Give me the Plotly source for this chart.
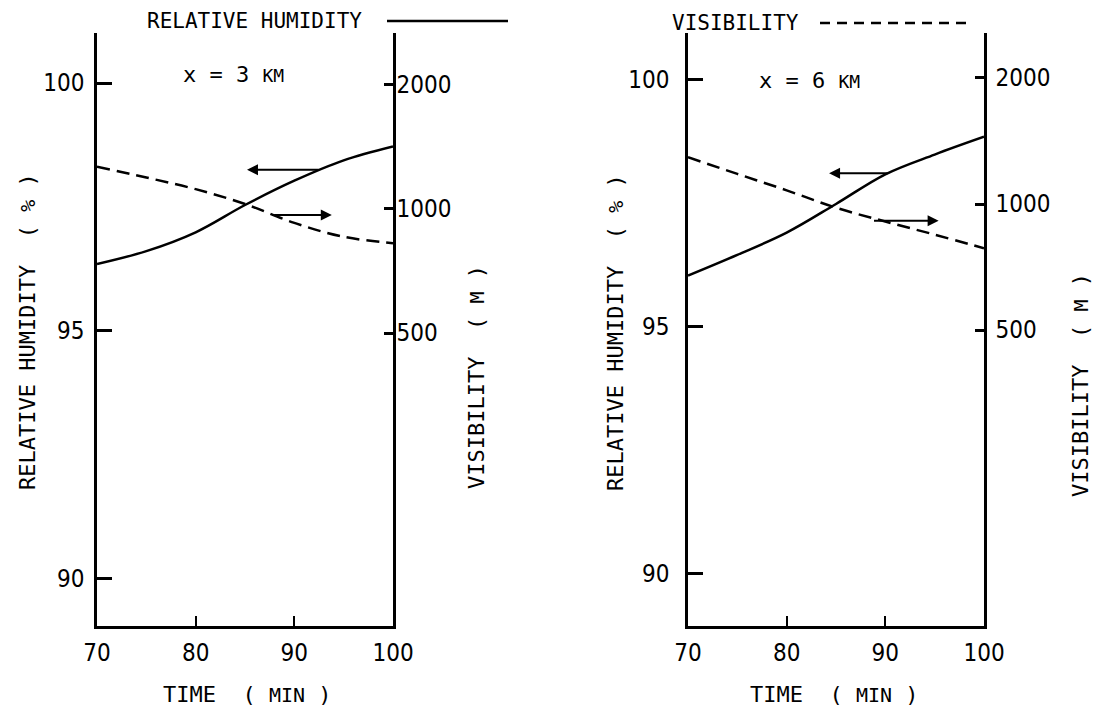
import plotly.graph_objects as go

# ---- data -------------------------------------------------------------
time_min = [70, 75, 80, 85, 90, 95, 100]

rh_3km = [96.35, 96.61, 96.99, 97.54, 98.03, 98.44, 98.72]     # %
vis_3km = [1267, 1192, 1117, 1028, 925, 856, 826]               # m

rh_6km = [96.04, 96.46, 96.91, 97.49, 98.09, 98.49, 98.85]     # %
vis_6km = [1293, 1180, 1078, 980, 908, 845, 784]                # m

x_ticks = [70, 80, 90, 100]
rh_ticks = [90, 95, 100]
vis_ticks = [500, 1000, 2000]

# arrows pointing to the axis each curve belongs to: (tail time, head time, RH level)
arrows_3km = [(92.6, 85.2, 98.25), (87.8, 93.8, 97.34)]
arrows_6km = [(90.4, 84.3, 98.11), (88.7, 95.4, 97.15)]

# ---- page geometry ----------------------------------------------------
W, H = 1095, 713
NUM_FONT = "DejaVu Sans Condensed, sans-serif"
TXT_FONT = "DejaVu Sans Mono, monospace"
NB = "\u00a0"


def px(x):
    return x / W


def py(y):
    return 1 - y / H


line_style = dict(color="black", width=2.5)
dash_style = dict(color="black", width=2.5, dash="13px,7px")

fig = go.Figure()
fig.add_trace(go.Scatter(x=time_min, y=rh_3km, mode="lines", line=dict(**line_style, shape="spline"),
                         xaxis="x", yaxis="y", showlegend=False))
fig.add_trace(go.Scatter(x=time_min, y=vis_3km, mode="lines", line=dict(**dash_style, shape="spline"),
                         xaxis="x", yaxis="y2", showlegend=False))
fig.add_trace(go.Scatter(x=time_min, y=rh_6km, mode="lines", line=dict(**line_style, shape="spline"),
                         xaxis="x2", yaxis="y3", showlegend=False))
fig.add_trace(go.Scatter(x=time_min, y=vis_6km, mode="lines", line=dict(**dash_style, shape="spline"),
                         xaxis="x2", yaxis="y4", showlegend=False))

tick_font = dict(family=NUM_FONT, size=24, color="black")
y_dom = [py(626), py(33)]

common_x = dict(range=[70, 100], tickvals=x_ticks, ticks="inside", ticklen=10, tickwidth=2,
                showline=True, linewidth=2.5, linecolor="black", showgrid=False, zeroline=False,
                tickfont=tick_font, tickcolor="black", automargin=False, ticklabelstandoff=3)
common_rh = dict(tickvals=rh_ticks, ticks="inside", ticklen=15, tickwidth=2.5, showline=True,
                 linewidth=2.5, linecolor="black", showgrid=False, zeroline=False,
                 tickfont=tick_font, tickcolor="black", automargin=False)
common_vis = dict(type="log", tickvals=vis_ticks, ticktext=[str(v) for v in vis_ticks], ticks="inside",
                  ticklen=9, tickwidth=2.5, showline=True, linewidth=2.5, linecolor="black",
                  showgrid=False, zeroline=False, tickfont=tick_font, tickcolor="black", side="right",
                  automargin=False)

fig.update_layout(
    width=W, height=H, margin=dict(l=0, r=0, t=0, b=0, autoexpand=False),
    paper_bgcolor="white", plot_bgcolor="white",
    xaxis=dict(domain=[px(97), px(393)], anchor="y", **common_x),
    yaxis=dict(domain=y_dom, anchor="x", range=[89.052, 101.008], ticklabelstandoff=5, **common_rh),
    yaxis2=dict(overlaying="y", anchor="x", range=[1.988, 3.427], ticklabelstandoff=-4, **common_vis),
    xaxis2=dict(domain=[px(688), px(984)], anchor="y3", **common_x),
    yaxis3=dict(domain=y_dom, anchor="x2", range=[88.947, 100.951], ticklabelstandoff=11, **common_rh),
    yaxis4=dict(overlaying="y3", anchor="x2", range=[1.992, 3.4085], ticklabelstandoff=4, **common_vis),
)

# arrows
for xr, yr, arrows in (("x", "y", arrows_3km), ("x2", "y3", arrows_6km)):
    for tail, head, level in arrows:
        fig.add_annotation(x=head, y=level, ax=tail, ay=level, xref=xr, yref=yr, axref=xr, ayref=yr,
                           text="", showarrow=True, arrowhead=2, arrowsize=1.1, arrowwidth=2,
                           arrowcolor="black")


def label(text, x, y, size=22, angle=0):
    fig.add_annotation(text=text, x=px(x), y=py(y), xref="paper", yref="paper", showarrow=False,
                       textangle=angle, xanchor="center", yanchor="middle",
                       font=dict(family=TXT_FONT, size=size, color="black"))


def small(s, size=18):
    return "<span style='font-size:%dpx'>%s</span>" % (size, s)


# legend keys
label("RELATIVE HUMIDITY", 254, 21, size=21)
label("VISIBILITY", 735, 23, size=21)
fig.add_shape(type="line", xref="paper", yref="paper", x0=px(387), x1=px(508), y0=py(21), y1=py(21),
              line=dict(color="black", width=2.5))
fig.add_shape(type="line", xref="paper", yref="paper", x0=px(820), x1=px(966), y0=py(23), y1=py(23),
              line=dict(color="black", width=2.5, dash="10px,7px"))

# panel labels
label("x = 3 " + small("KM"), 233, 75, size=22)
label("x = 6 " + small("KM"), 809, 80, size=22)

# axis titles
for cx in (247, 834):
    label("TIME" + NB * 2 + "(" + NB + small("MIN", 20) + NB + ")", cx, 694, size=22)
rh_title = "RELATIVE HUMIDITY" + NB * 2 + "(" + NB + small("%", 20) + NB + ")"
vis_title = "VISIBILITY" + NB * 2 + "(" + NB + small("M", 20) + NB + ")"
label(rh_title, 27, 332, size=22, angle=-90)
label(rh_title, 615, 333, size=22, angle=-90)
label(vis_title, 476, 377, size=22, angle=-90)
label(vis_title, 1080, 385, size=22, angle=-90)

fig.write_html("out.html")
